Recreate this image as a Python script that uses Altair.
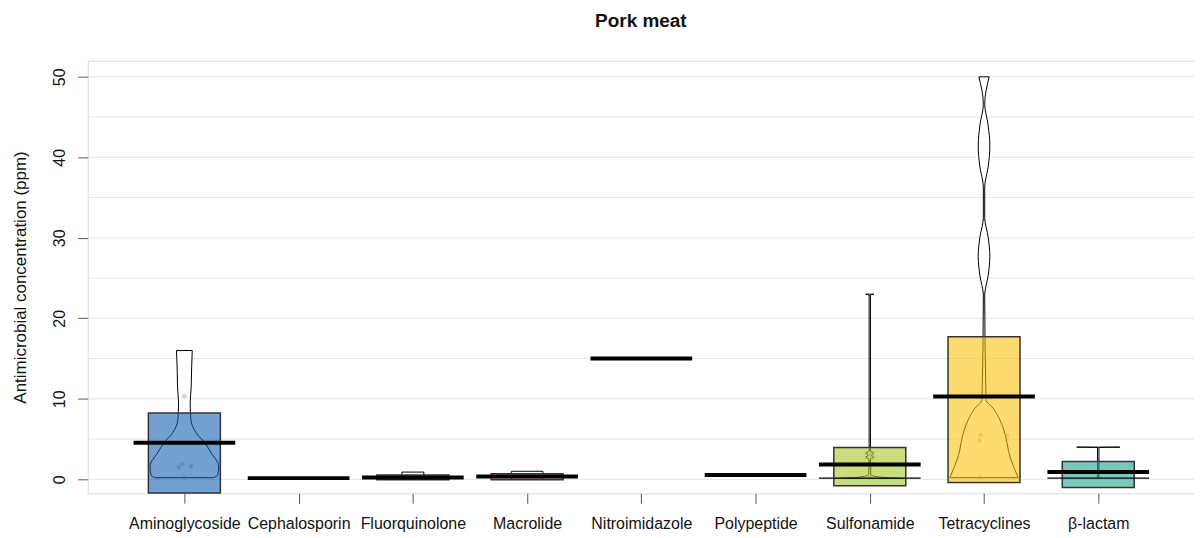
import altair as alt
import pandas as pd

# ---------------- data ----------------
categories = ["Aminoglycoside", "Cephalosporin", "Fluorquinolone", "Macrolide",
              "Nitroimidazole", "Polypeptide", "Sulfonamide", "Tetracyclines", "β-lactam"]
box_colors = ["#0C5BB0", "#EE0011", "#15983D", "#EC579A", "#FA6B09",
              "#149BED", "#A1C720", "#FEC10B", "#16A08C"]

# inference band (box) low / high ; None = no visible band
box_low = [-1.7, None, -0.05, -0.05, None, None, -0.8, -0.4, -1.0]
box_high = [8.25, None, 0.55, 0.7, None, None, 3.95, 17.7, 2.2]
# thick average line
mean_vals = [4.55, 0.15, 0.22, 0.35, 15.0, 0.55, 1.85, 10.3, 0.9]
# thin line (median)
median_cats = ["Sulfonamide", "β-lactam"]
median_vals = [0.15, 0.15]

# bean (violin) outlines: value and relative half width
amino_v = [0.2, 0.5, 1.65, 3.3, 4.5, 5.8, 7.4, 9.5, 11.5, 13.6, 16.0]
amino_w = [0.85, 0.97, 1.0, 0.78, 0.6, 0.34, 0.19, 0.17, 0.2, 0.21, 0.23]
fluor_v = [0.0, 0.9]
fluor_w = [0.32, 0.32]
macro_v = [0.0, 1.0]
macro_w = [0.46, 0.46]
sulfa_v = [0.1, 0.3, 0.6, 2.5, 2.75, 3.0, 3.25, 3.5, 22.9, 23.0]
sulfa_w = [1.0, 0.25, 0.03, 0.02, 0.12, 0.04, 0.12, 0.02, 0.02, 0.12]
tetra_v = [0.2, 2.5, 6.6, 8.7, 9.9, 22.9, 25.3, 27.7, 30.1, 32.5, 36.3, 38.8, 41.4, 44.0, 46.6, 50.0]
tetra_w = [1.0, 0.78, 0.54, 0.29, 0.06, 0.02, 0.12, 0.17, 0.12, 0.02, 0.02, 0.12, 0.17, 0.12, 0.02, 0.15]
blact_v = [0.3, 3.95, 4.0]
blact_w = [0.02, 0.02, 0.63]
violins = {
    "Aminoglycoside": (amino_v, amino_w),
    "Fluorquinolone": (fluor_v, fluor_w),
    "Macrolide": (macro_v, macro_w),
    "Sulfonamide": (sulfa_v, sulfa_w),
    "Tetracyclines": (tetra_v, tetra_w),
    "β-lactam": (blact_v, blact_w),
}

# raw points (faint)
point_cats = ["Aminoglycoside", "Aminoglycoside", "Aminoglycoside", "Aminoglycoside", "Aminoglycoside",
              "Sulfonamide", "Sulfonamide", "Sulfonamide",
              "Tetracyclines", "Tetracyclines", "Tetracyclines", "Tetracyclines", "β-lactam"]
point_vals = [10.3, 1.9, 1.6, 1.5, 0.2, 3.1, 2.8, 0.3, 5.5, 5.5, 4.8, 0.3, 0.3]
point_jitter = [0.0, -0.02, 0.06, -0.05, 0.0, 0.0, 0.02, 0.0, -0.03, 0.2, -0.04, -0.04, 0.0]

grid_vals = [0, 5, 10, 15, 20, 25, 30, 35, 40, 45, 50]
y_ticks = [0, 10, 20, 30, 40, 50]

# ---------------- styles ----------------
BEAN_HW = 0.30   # max half width of a bean (x units)
BOX_HW = 0.315   # half width of band
LINE_HW = 0.445  # half width of average line
FONT = "Liberation Sans"

pos = {c: i + 1 for i, c in enumerate(categories)}

vrows = []
for c, (vs, ws) in violins.items():
    for v, w in zip(vs, ws):
        vrows.append({"cat": c, "y": v, "xl": pos[c] - w * BEAN_HW, "xr": pos[c] + w * BEAN_HW})
vdf = pd.DataFrame(vrows)

brows = []
for c, lo, hi in zip(categories, box_low, box_high):
    if lo is None:
        continue
    brows.append({"cat": c, "lo": lo, "hi": hi, "xl": pos[c] - BOX_HW, "xr": pos[c] + BOX_HW})
bdf = pd.DataFrame(brows)

mdf = pd.DataFrame({"cat": categories, "y": mean_vals,
                    "xl": [pos[c] - LINE_HW for c in categories],
                    "xr": [pos[c] + LINE_HW for c in categories]})
meddf = pd.DataFrame({"cat": median_cats, "y": median_vals,
                      "xl": [pos[c] - LINE_HW for c in median_cats],
                      "xr": [pos[c] + LINE_HW for c in median_cats]})
pdf = pd.DataFrame({"cat": point_cats, "y": point_vals,
                    "x": [pos[c] + j for c, j in zip(point_cats, point_jitter)]})
gdf = pd.DataFrame({"g": grid_vals})

xscale = alt.Scale(domain=[0.154, 9.838], nice=False, zero=False)
yscale = alt.Scale(domain=[-1.73, 52.0], nice=False, zero=False)

label_expr = "[" + ",".join("'" + c + "'" for c in categories) + "][datum.value - 1]"
xaxis = alt.Axis(values=list(range(1, 10)), labelExpr=label_expr, grid=False, domain=False,
                 tickSize=10, tickColor="#555", labelFont=FONT, labelFontSize=16,
                 labelColor="#111", labelPadding=12, labelOverlap=False, title=None)
yaxis = alt.Axis(values=y_ticks, grid=False, domain=False, tickSize=10, tickColor="#555",
                 labelAngle=270, labelAlign="center", labelBaseline="bottom",
                 labelFont=FONT, labelFontSize=16, labelColor="#111", labelPadding=10,
                 labelOverlap=False,
                 title="Antimicrobial concentration (ppm)", titleFont=FONT, titleFontSize=17,
                 titleFontWeight="normal", titleColor="#111", titlePadding=22)
YT = "Antimicrobial concentration (ppm)"


def X(f):
    return alt.X(f, type="quantitative", scale=xscale, axis=xaxis, title=None, stack=None)


def Y(f):
    return alt.Y(f, type="quantitative", scale=yscale, axis=yaxis, title=YT)


grid = alt.Chart(gdf).mark_rule(color="#e6e6e6", strokeWidth=1).encode(y=Y("g"))

# x-axis carrier
xcarrier = alt.Chart(mdf).mark_rule(opacity=0).encode(x=X("xl"), y=Y("y"))

beans = alt.Chart(vdf).mark_area(orient="horizontal", fill="white", stroke="black",
                                 strokeWidth=1, interpolate="monotone").encode(
    y=Y("y"), x=X("xl"), x2="xr", detail="cat:N")

points = alt.Chart(pdf).mark_circle(size=22, color="#888", opacity=0.35).encode(x=X("x"), y=Y("y"))

boxes = alt.Chart(bdf).mark_rect(stroke="#333", strokeWidth=1.5, fillOpacity=0.58).encode(
    x=X("xl"), x2="xr", y=Y("lo"), y2="hi",
    color=alt.Color("cat:N", scale=alt.Scale(domain=categories, range=box_colors), legend=None))

medians = alt.Chart(meddf).mark_rule(color="black", strokeWidth=1.5).encode(
    x=X("xl"), x2="xr", y=Y("y"))

means = alt.Chart(mdf).mark_rule(color="black", strokeWidth=4).encode(
    x=X("xl"), x2="xr", y=Y("y"))

chart = alt.layer(grid, xcarrier, beans, points, boxes, medians, means).properties(
    width=1110, height=434,
    padding={"left": 80, "top": 52, "right": 0, "bottom": 44},
    autosize=alt.AutoSizeParams(type="none"),
    title=alt.TitleParams("Pork meat", font=FONT, fontSize=19, fontWeight="bold",
                          color="#111", anchor="middle", offset=30),
).configure_view(stroke="#444", strokeWidth=1.2).configure(background="white")

chart.save("out.html", embed_options={"renderer": "svg", "actions": False})
